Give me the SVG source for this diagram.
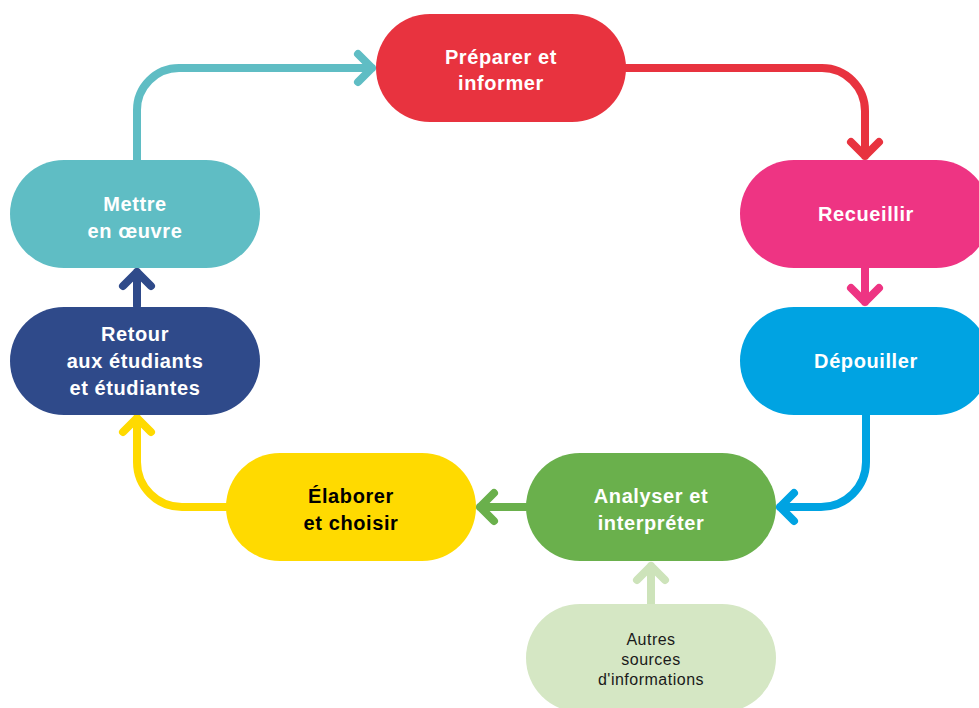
<svg xmlns="http://www.w3.org/2000/svg" width="979" height="708" viewBox="0 0 979 708">
<style>
.t{font-family:"Liberation Sans",Arial,sans-serif;font-weight:bold;font-size:20px;letter-spacing:0.6px;fill:#fff;text-anchor:middle}
.d{fill:#000}
.s{font-family:"Liberation Sans",Arial,sans-serif;font-size:16px;letter-spacing:0.5px;fill:#1a1a1a;text-anchor:middle}
.c{fill:none;stroke-width:8;stroke-linecap:round;stroke-linejoin:round}
</style>
<rect width="979" height="708" fill="#fff"/>
<g id="connectors">
<path class="c" stroke="#5FBDC4" d="M137 160 V110 A42 42 0 0 1 179 68 H372 M358 54 L372 68 L358 82"/>
<path class="c" stroke="#E8333F" d="M626 68 H822 A43 43 0 0 1 865 111 V156 M851 142 L865 156 L879 142"/>
<path class="c" stroke="#EE3483" d="M865 268 V302 M851 288 L865 302 L879 288"/>
<path class="c" stroke="#00A3E2" d="M866 414 V462 A45 45 0 0 1 821 507 H780 M794 493 L780 507 L794 521"/>
<path class="c" stroke="#6AB04C" d="M526 507 H480 M494 493 L480 507 L494 521"/>
<path class="c" stroke="#FFDA00" d="M226 507 H182 A45 45 0 0 1 137 462 V418 M123 432 L137 418 L151 432"/>
<path class="c" stroke="#2F4A8A" d="M137 306 V272 M123 286 L137 272 L151 286"/>
<path class="c" stroke="#CDE3BA" d="M651 604 V566 M637 580 L651 566 L665 580"/>
</g>
<g id="preparer"><rect x="376" y="14" width="250" height="108" rx="54" fill="#E8333F"/><text class="t" x="501" y="64">Préparer et</text><text class="t" x="501" y="90">informer</text></g>
<g id="recueillir"><rect x="740" y="160" width="250" height="108" rx="54" fill="#EE3483"/><text class="t" x="866" y="221">Recueillir</text></g>
<g id="depouiller"><rect x="740" y="307" width="250" height="108" rx="54" fill="#00A3E2"/><text class="t" x="866" y="368">Dépouiller</text></g>
<g id="analyser"><rect x="526" y="453" width="250" height="108" rx="54" fill="#6AB04C"/><text class="t" x="651" y="503">Analyser et</text><text class="t" x="651" y="530">interpréter</text></g>
<g id="elaborer"><rect x="226" y="453" width="250" height="108" rx="54" fill="#FFDA00"/><text class="t d" x="351" y="503">Élaborer</text><text class="t d" x="351" y="530">et choisir</text></g>
<g id="retour"><rect x="10" y="307" width="250" height="108" rx="54" fill="#2F4A8A"/><text class="t" x="135" y="341">Retour</text><text class="t" x="135" y="368">aux étudiants</text><text class="t" x="135" y="395">et étudiantes</text></g>
<g id="mettre"><rect x="10" y="160" width="250" height="108" rx="54" fill="#5FBDC4"/><text class="t" x="135" y="211">Mettre</text><text class="t" x="135" y="238">en œuvre</text></g>
<g id="autres"><rect x="526" y="604" width="250" height="108" rx="54" fill="#D5E7C4"/><text class="s" x="651" y="645">Autres</text><text class="s" x="651" y="665">sources</text><text class="s" x="651" y="685">d'informations</text></g>
</svg>
